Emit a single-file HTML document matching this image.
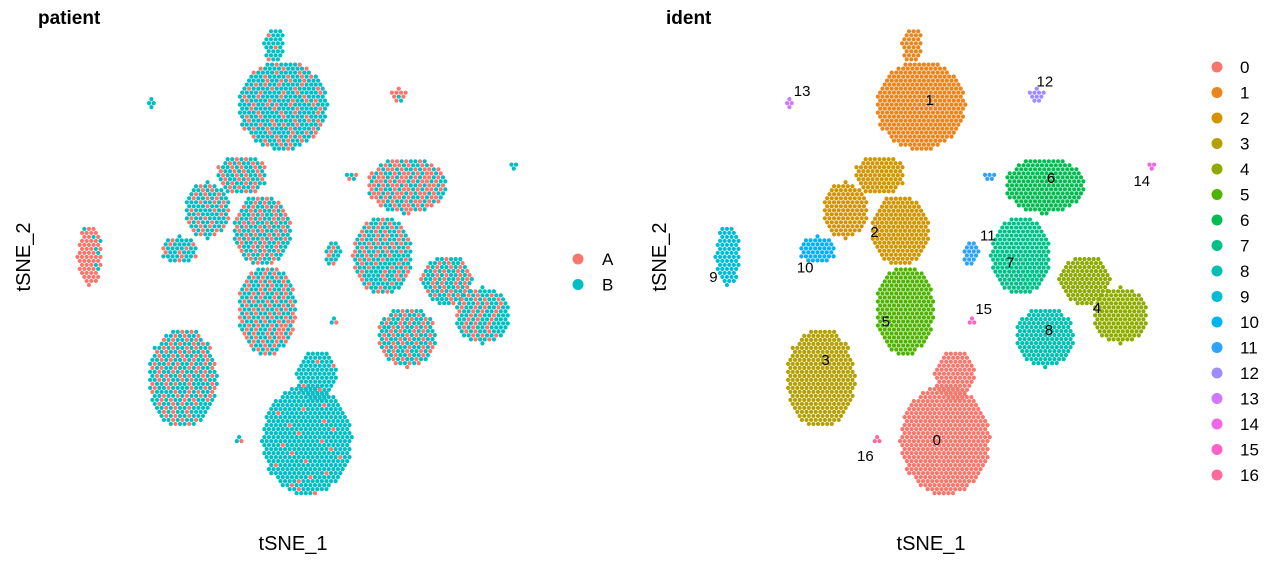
<!DOCTYPE html>
<html><head><meta charset="utf-8"><style>
body{margin:0;background:#fff;}
svg{display:block;font-family:"Liberation Sans",sans-serif;}
</style></head><body>
<svg id="chart" width="1273" height="564" xmlns="http://www.w3.org/2000/svg">
<text x="38" y="24" font-size="19" font-weight="bold">patient</text>
<text x="666" y="24" font-size="19" font-weight="bold">ident</text>
<text x="293" y="550" font-size="20" text-anchor="middle">tSNE_1</text>
<text x="931" y="550" font-size="20" text-anchor="middle">tSNE_1</text>
<text transform="translate(30,257) rotate(-90)" font-size="20" text-anchor="middle">tSNE_2</text>
<text transform="translate(666,257) rotate(-90)" font-size="20" text-anchor="middle">tSNE_2</text>
<g id="left"></g><g id="right"></g><g id="labels"></g><g id="legends"></g>
</svg>
<script>
// cluster blobs (tSNE coordinates)
const clusterIds = [0,0,1,1,2,2,2,3,4,4,5,6,7,8,9,10,11,11,12,13,14,15,16];
const centerX = [-0.3,0.7,-2.7,-3.5,-10.1,-4.7,-6.7,-12.5,13.4,16.9,-4.2,9.5,7.1,9.5,-21.6,-12.8,2.2,4.1,8.7,-15.5,20,2.4,-7];
const centerY = [-18.0,-11.7,14.2,20.0,4.1,2.2,7.5,-12.0,-2.6,-6.0,-5.5,6.5,-0.2,-8.1,-0.2,0.3,0,7.5,15.2,14.4,8.3,-6.6,-18.0];
const spreadX = [4.4,2.0,4.4,1.0,2.2,2.9,2.5,3.4,2.5,2.7,2.9,3.9,2.9,2.9,1.2,1.8,0.8,0.7,0.9,0.5,0.7,0.5,0.4];
const spreadY = [5.3,2.4,4.3,1.7,2.7,3.4,1.9,4.8,2.4,2.7,4.3,2.7,3.8,2.9,2.9,1.3,1.3,0.4,0.6,0.4,0.2,0.3,0.3];
const fracA = [0.05,0.05,0.25,0.05,0.35,0.35,0.35,0.35,0.3,0.3,0.4,0.55,0.3,0.35,0.9,0.2,0.3,0.3,0.8,0,0,0.5,0.2];
const labelIds = [0,1,2,3,4,5,6,7,8,9,10,11,12,13,14,15,16];
const labelX = [-1.1,-1.8,-7.2,-12.0,14.6,-6.1,10.1,6.1,9.9,-23.0,-14.0,3.9,9.5,-14.3,19.0,3.5,-8.1];
const labelY = [-18.0,14.7,2.0,-10.3,-5.3,-6.6,7.2,-0.9,-7.4,-2.3,-1.4,1.7,16.5,15.6,6.9,-5.4,-19.5];
const colors = ["#F8766D","#E8851D","#D29400","#B4A000","#8DAA00","#4DB500","#00BC51","#00C088","#00C0B3","#00BCD6","#00B3F2","#2BA3FF","#9E8DFF","#D277FF","#F166E8","#FF61C7","#FF699E"];
const patients = ["A","B"], patientColors = ["#F8766D","#00BFC4"];

const NS="http://www.w3.org/2000/svg";
function px(x,off){return off+310+x*10.2;}
function py(y){return 253-y*10.4;}
const left=document.getElementById('left'), right=document.getElementById('right');
for(let c=0;c<clusterIds.length;c++){
  const sx=spreadX[c]*10.2, sy=spreadY[c]*10.4, step=4.6;
  let k=0;
  for(let dy=-sy;dy<=sy+0.01;dy+=step*0.87){
    const row=Math.round((dy+sy)/(step*0.87));
    for(let dx=-sx+(row%2?step/2:0);dx<=sx+0.01;dx+=step){
      if((dx*dx)/(sx*sx+1)+(dy*dy)/(sy*sy+1)>1) continue;
      k++;
      const isA=((k*61+row*29)%100)/100<fracA[c];
      const xl=px(centerX[c],0)+dx, yv=py(centerY[c])+dy;
      const a=document.createElementNS(NS,'circle');
      a.setAttribute('cx',xl);a.setAttribute('cy',yv);a.setAttribute('r',2.1);
      a.setAttribute('fill',isA?patientColors[0]:patientColors[1]);
      
      
      left.appendChild(a);
      const b=document.createElementNS(NS,'circle');
      b.setAttribute('cx',xl+638);b.setAttribute('cy',yv);b.setAttribute('r',2.1);
      b.setAttribute('fill',colors[clusterIds[c]]);
      
      
      right.appendChild(b);
    }
  }
}
const lab=document.getElementById('labels');
labelIds.forEach((id,i)=>{
  const t=document.createElementNS(NS,'text');
  t.setAttribute('x',px(labelX[i],638));t.setAttribute('y',py(labelY[i])+5);
  t.setAttribute('font-size','15');t.setAttribute('text-anchor','middle');
  t.textContent=id;
  
  
  lab.appendChild(t);
});
const leg=document.getElementById('legends');
labelIds.forEach((id,i)=>{
  const y=67+i*25.5;
  const d=document.createElementNS(NS,'circle');
  d.setAttribute('cx',1217);d.setAttribute('cy',y);d.setAttribute('r',5.5);d.setAttribute('fill',colors[i]);
  
  
  leg.appendChild(d);
  const t=document.createElementNS(NS,'text');
  t.setAttribute('x',1240);t.setAttribute('y',y+6);t.setAttribute('font-size','17');t.textContent=id;
  
  
  leg.appendChild(t);
});
patients.forEach((p,i)=>{
  const y=259+i*25.5;
  const d=document.createElementNS(NS,'circle');
  d.setAttribute('cx',578);d.setAttribute('cy',y);d.setAttribute('r',5.5);d.setAttribute('fill',patientColors[i]);
  
  
  leg.appendChild(d);
  const t=document.createElementNS(NS,'text');
  t.setAttribute('x',602);t.setAttribute('y',y+6);t.setAttribute('font-size','17');t.textContent=p;
  
  
  leg.appendChild(t);
});
</script>
</body></html>
